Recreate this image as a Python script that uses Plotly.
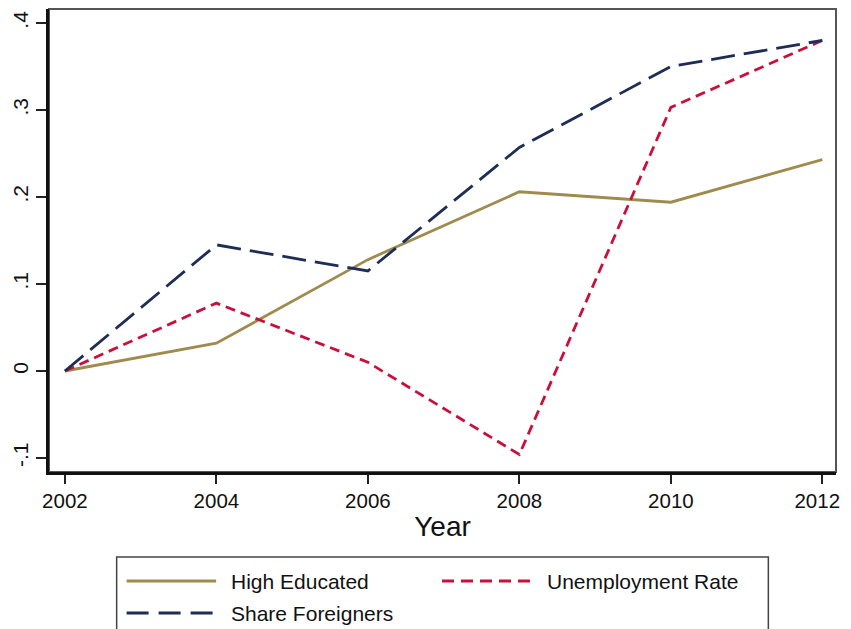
import plotly.graph_objects as go

years = [2002, 2004, 2006, 2008, 2010, 2012]
high_educated = [0.0, 0.032, 0.128, 0.206, 0.194, 0.243]
unemployment_rate = [0.0, 0.078, 0.010, -0.096, 0.303, 0.380]
share_foreigners = [0.0, 0.145, 0.115, 0.257, 0.350, 0.380]

y_tickvals = [-0.1, 0.0, 0.1, 0.2, 0.3, 0.4]
y_ticktext = ["-.1", "0", ".1", ".2", ".3", ".4"]
x_tickvals = years
# last label padded with an en space so it stays inside the window edge
x_ticktext = [str(y) for y in years[:-1]] + [str(years[-1]) + "\u2002"]

C_GOLD = "#A08B4E"
C_RED = "#C8103C"
C_NAVY = "#1D2D55"
FONT = "Liberation Sans, Arial, sans-serif"

OFF = 8  # browser body margin
W, H = 851 - OFF, 629 - OFF
# plot area in window pixels
L, R, T, B = 47, 838, 9, 472
Lf, Rf, Tf, Bf = L - OFF, R - OFF, T - OFF, B - OFF  # in figure pixels

fig = go.Figure()
fig.add_trace(go.Scatter(x=years, y=high_educated, mode="lines", name="High Educated",
                         line=dict(color=C_GOLD, width=2.8)))
fig.add_trace(go.Scatter(x=years, y=unemployment_rate, mode="lines", name="Unemployment Rate",
                         line=dict(color=C_RED, width=2.8, dash="10px,6px")))
fig.add_trace(go.Scatter(x=years, y=share_foreigners, mode="lines", name="Share Foreigners",
                         line=dict(color=C_NAVY, width=2.8, dash="24px,9px")))


def px_to_paper(px, py):
    return (px - L) / (R - L), (B - py) / (B - T)


shapes = []
annotations = []

# plot region box (grey top/right)
shapes.append(dict(type="rect", xref="paper", yref="paper", x0=0, x1=1, y0=0, y1=1,
                   line=dict(color="#555555", width=2), layer="below"))

# legend box
lx0, ly0 = px_to_paper(115, 557)
lx1, ly1 = px_to_paper(770, 640)
shapes.append(dict(type="rect", xref="paper", yref="paper", x0=lx0, x1=lx1, y0=ly1, y1=ly0,
                   line=dict(color="#444444", width=1.5), fillcolor="white"))

legend_items = [
    ("High Educated", C_GOLD, "solid", 125, 215, 228, 581),
    ("Unemployment Rate", C_RED, "12px,7px", 442, 531, 546, 581),
    ("Share Foreigners", C_NAVY, "22px,10px", 125, 215, 228, 613),
]
for name, color, dash, sx0, sx1, tx, ty in legend_items:
    a0, b0 = px_to_paper(sx0, ty)
    a1, _ = px_to_paper(sx1, ty)
    shapes.append(dict(type="line", xref="paper", yref="paper", x0=a0, x1=a1, y0=b0, y1=b0,
                       line=dict(color=color, width=2.8, dash=dash)))
    ta, tb = px_to_paper(tx, ty)
    annotations.append(dict(text=name, xref="paper", yref="paper", x=ta, y=tb,
                            xanchor="left", yanchor="middle", showarrow=False,
                            font=dict(family=FONT, size=21, color="#111111")))

fig.update_layout(
    width=W, height=H,
    margin=dict(l=Lf, r=W - Rf, t=Tf, b=H - Bf, pad=0),
    paper_bgcolor="white", plot_bgcolor="white",
    showlegend=False,
    font=dict(family=FONT, size=21, color="#111111"),
    shapes=shapes, annotations=annotations,
    xaxis=dict(range=[2001.79, 2012.18], tickvals=x_tickvals, ticktext=x_ticktext,
               ticks="outside", ticklen=9, ticklabeloverflow="allow",
               tickwidth=1.5, tickcolor="#222222", showgrid=False, zeroline=False,
               showline=True, linecolor="#111111", linewidth=2.5,
               tickfont=dict(size=20.5),
               title=dict(text="Year", font=dict(size=28), standoff=6)),
    yaxis=dict(range=[-0.1161, 0.4161], tickvals=y_tickvals, ticktext=y_ticktext,
               ticks="outside", ticklen=10, tickwidth=1.5, tickcolor="#222222",
               showgrid=False, zeroline=False, showline=True, linecolor="#111111",
               linewidth=2.5, tickangle=-90, tickfont=dict(size=21)),
)

fig.write_html("out.html")
